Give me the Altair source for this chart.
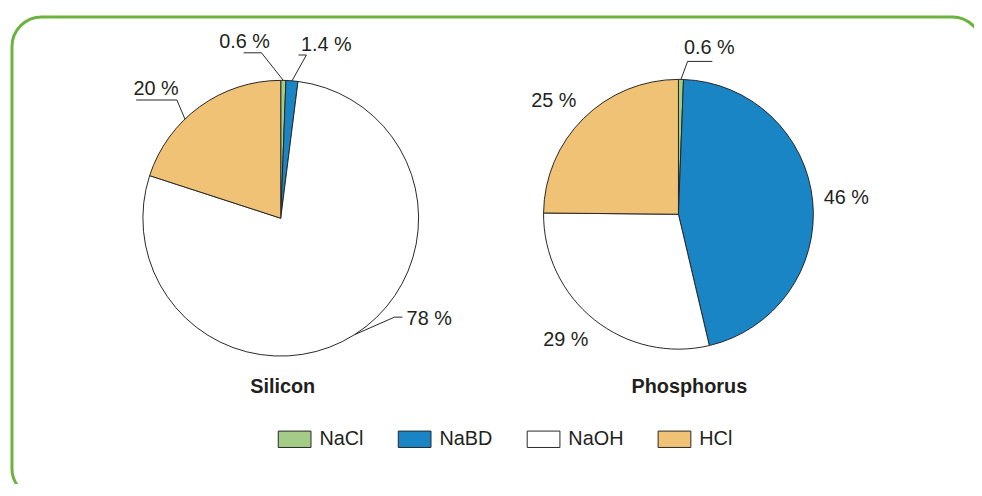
import math
import altair as alt
import pandas as pd

# ---------------- data ----------------
reagents = ["NaCl", "NaBD", "NaOH", "HCl"]
colors = ["#a4cc86", "#1985c5", "#ffffff", "#f0c276"]
pies = ["Silicon", "Phosphorus"]
silicon_values = [0.6, 1.4, 78, 20]
phosphorus_values = [0.6, 46, 29, 25]
values_by_pie = {"Silicon": silicon_values, "Phosphorus": phosphorus_values}

# ---------------- layout (pixels inside the view) ----------------
W, H = 970, 469
FRAME_W, FRAME_H = 978, 485          # rounded frame runs past the page edge
centers = {"Silicon": (271, 203), "Phosphorus": (672, 199)}
radii = {"Silicon": 139, "Phosphorus": 136}
label_radius = {"Silicon": 181, "Phosphorus": 170}
# angular nudges of the labels, in reagent order (NaCl, NaBD, NaOH, HCl)
label_nudge_deg = {"Silicon": [-12.7, 10, -23.4, -8], "Phosphorus": [9.5, 0, 3.3, -2.9]}
# leader lines: (pie, reagent index) -> (start-angle nudge, elbow offset, end offset) rel. to label
leaders = {
    ("Silicon", 0): (0, (17, 10.5), (-1, 10.5)),
    ("Silicon", 1): (0, (-20, 10.5), (-28, 10.5)),
    ("Silicon", 3): (-8, (21, 11), (-20, 11)),
    ("Silicon", 2): (0, (-35, -2), (-27, -2)),
    ("Phosphorus", 0): (0, (-22, 13), (3, 13)),
}
title_xy = {"Silicon": (273, 373), "Phosphorus": (683, 373)}

FONT = "Liberation Sans"
INK = "#231f20"
EDGE = "#262626"


def polar(cx, cy, r, deg):
    a = math.radians(deg)
    return cx + r * math.sin(a), cy - r * math.cos(a)


label_rows, leader_rows = [], []
for pie in pies:
    vals = values_by_pie[pie]
    total = sum(vals)
    cx, cy = centers[pie]
    cum = 0.0
    for i, v in enumerate(vals):
        mid = (cum + v / 2) / total * 360
        cum += v
        lx, ly = polar(cx, cy, label_radius[pie], mid + label_nudge_deg[pie][i])
        label_rows.append({"pie": pie, "label": f"{v:g} %", "x": lx, "y": ly})
        if (pie, i) in leaders:
            nud, elbow, end = leaders[(pie, i)]
            sx, sy = polar(cx, cy, radii[pie], mid + nud)
            lid = f"{pie}-{reagents[i]}"
            leader_rows += [
                {"id": lid, "seq": 0, "x": sx, "y": sy},
                {"id": lid, "seq": 1, "x": lx + elbow[0], "y": ly + elbow[1]},
                {"id": lid, "seq": 2, "x": lx + end[0], "y": ly + end[1]},
            ]

labels_df = pd.DataFrame(label_rows)
leaders_df = pd.DataFrame(leader_rows)
titles_df = pd.DataFrame(
    {"pie": pies, "x": [title_xy[p][0] for p in pies], "y": [title_xy[p][1] for p in pies]}
)

legend = alt.Legend(
    title=None,
    orient="none",
    legendX=268,
    legendY=408.5,
    direction="horizontal",
    symbolType="M-1,-0.5H1V0.5H-1Z",
    symbolSize=1089,
    symbolStrokeColor=EDGE,
    symbolStrokeWidth=1,
    symbolOpacity=1,
    labelFont=FONT,
    labelFontSize=20,
    labelColor=INK,
    labelOffset=8,
    columnPadding=32,
    padding=0,
)

color_scale = alt.Scale(domain=reagents, range=colors)


def arc_layer(pie):
    df = pd.DataFrame(
        {"reagent": reagents, "value": values_by_pie[pie], "order": list(range(len(reagents)))}
    )
    cx, cy = centers[pie]
    return (
        alt.Chart(df)
        .mark_arc(outerRadius=radii[pie], stroke=EDGE, strokeWidth=1)
        .encode(
            theta=alt.Theta("value:Q", stack=True),
            color=alt.Color("reagent:N", scale=color_scale, legend=legend),
            order=alt.Order("order:Q"),
            x=alt.value(cx),
            y=alt.value(cy),
        )
    )


frame_layer = (
    alt.Chart(pd.DataFrame({"frame": [0]}))
    .mark_rect(fillOpacity=0, stroke="#6db33f", strokeWidth=3, cornerRadius=30)
    .encode(x=alt.value(0), x2=alt.value(FRAME_W), y=alt.value(0), y2=alt.value(FRAME_H))
)

leader_layer = (
    alt.Chart(leaders_df)
    .mark_line(color=EDGE, strokeWidth=1)
    .encode(
        x=alt.X("x:Q", scale=None, axis=None),
        y=alt.Y("y:Q", scale=None, axis=None),
        detail="id:N",
        order="seq:Q",
    )
)

label_layer = (
    alt.Chart(labels_df)
    .mark_text(font=FONT, fontSize=20, color=INK, align="center", baseline="middle")
    .encode(
        x=alt.X("x:Q", scale=None, axis=None),
        y=alt.Y("y:Q", scale=None, axis=None),
        text="label:N",
    )
)

title_layer = (
    alt.Chart(titles_df)
    .mark_text(font=FONT, fontSize=20, fontWeight="bold", color=INK, align="center", baseline="middle")
    .encode(
        x=alt.X("x:Q", scale=None, axis=None),
        y=alt.Y("y:Q", scale=None, axis=None),
        text="pie:N",
    )
)

chart = (
    alt.layer(frame_layer, arc_layer("Silicon"), arc_layer("Phosphorus"),
              leader_layer, label_layer, title_layer)
    .resolve_scale(theta="independent")
    .properties(width=W, height=H,
                padding={"left": 4, "top": 7, "right": 0, "bottom": 0},
                autosize=alt.AutoSizeParams(type="none"),
                background="#ffffff")
    .configure_view(strokeWidth=0)
)

chart.save("out.html", embed_options={"renderer": "svg", "actions": False})
